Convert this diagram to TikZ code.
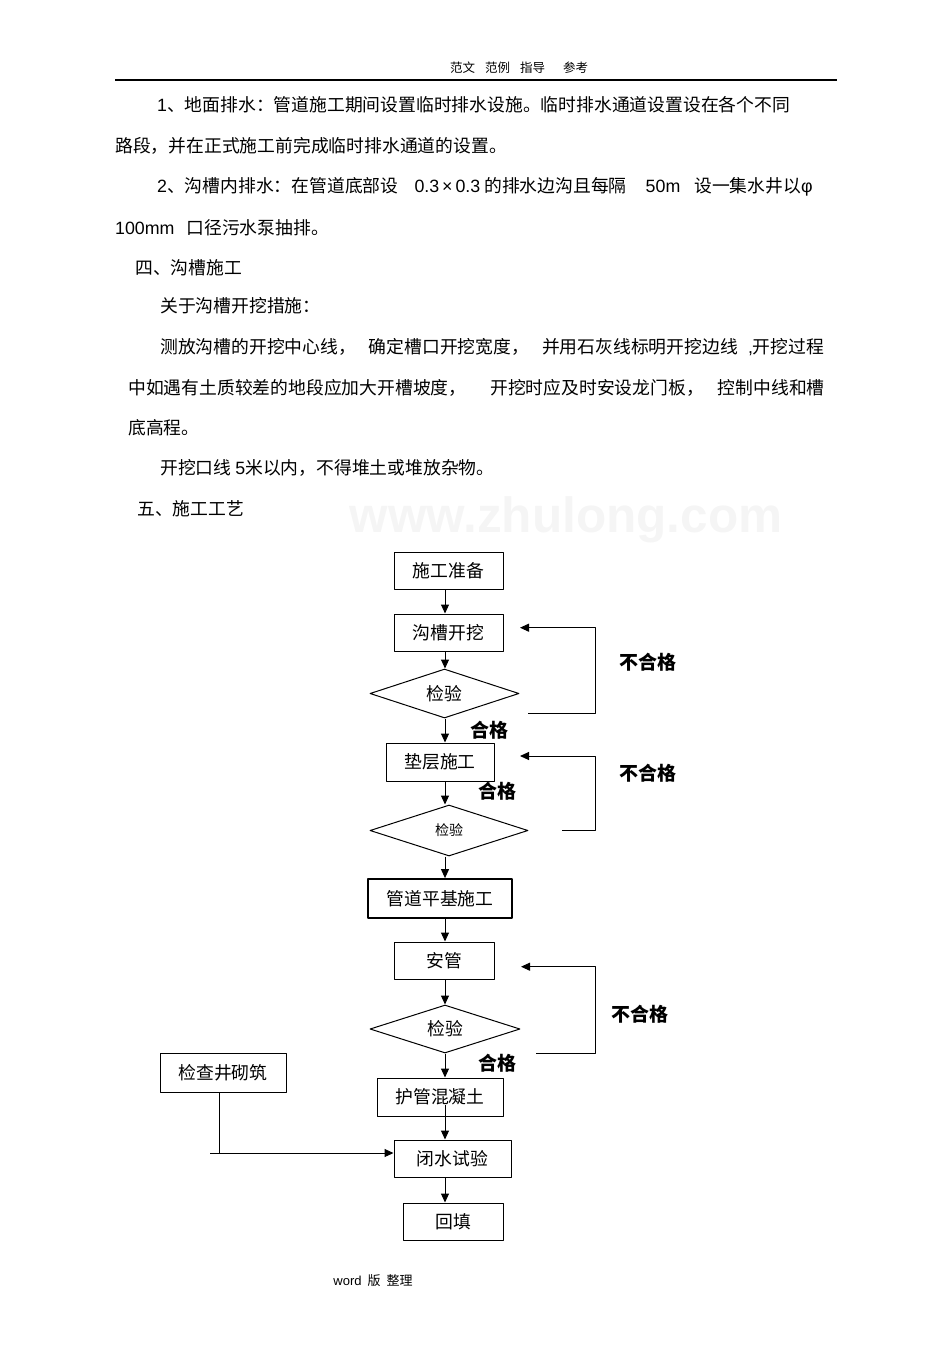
\documentclass[tikz,border=0pt]{standalone}
\usepackage{fontspec}
\setmainfont{Liberation Sans}
\newfontfamily\cjk{Noto Sans CJK SC}
\usetikzlibrary{shapes.geometric,arrows.meta}
\newcommand\lat[1]{{\rmfamily #1}}
\begin{document}
\begin{tikzpicture}[x=1pt, y=-1pt, line join=round, >={Triangle[length=9pt,width=8pt]},
	font=\cjk\fontsize{17.8}{21}\selectfont,
	para/.style={anchor=west, inner sep=0pt},
	box/.style={draw, line width=1pt, minimum height=37pt, inner sep=0pt},
	check/.style={draw, line width=1pt, diamond, shape aspect=3, minimum width=149pt, minimum height=49pt, inner sep=0pt},
	pass/.style={inner sep=0pt, font=\cjk\bfseries\fontsize{19}{20}\selectfont}]
	\useasboundingbox (0,0) rectangle (950,1346);
	\def\loopx{595}
	\node[font=\cjk\fontsize{12.5}{14}\selectfont] (head) at (519,68) {范文\hspace{10pt}范例\hspace{10pt}指导\hspace{18pt}参考};
	\draw[line width=1.2pt] (115,80) -- (837,80);
	\node[para] (p1) at (157,105) {\lat{1}、地面排水：管道施工期间设置临时排水设施。临时排水通道设置设在各个不同};
	\node[para] (p2) at (115,146) {路段，并在正式施工前完成临时排水通道的设置。};
	\node[para] (p3) at (157,187) {\lat{2}、沟槽内排水：在管道底部设\hspace{16pt}\lat{0.3\,×\,0.3} 的排水边沟且每隔\hspace{19pt}\lat{50m}\hspace{14pt}设一集水井以\lat{φ}};
	\node[para] (p4) at (115,228) {\lat{100mm}\hspace{12pt}口径污水泵抽排。};
	\node[para] (p5) at (135,268) {四、沟槽施工};
	\node[para] (p6) at (160,306) {关于沟槽开挖措施：};
	\node[para] (p7) at (160,347) {测放沟槽的开挖中心线，\hspace{13pt}确定槽口开挖宽度，\hspace{13pt}并用石灰线标明开挖边线\hspace{10pt}\lat{,}开挖过程};
	\node[para] (p8) at (128,388) {中如遇有土质较差的地段应加大开槽坡度，\hspace{24pt}开挖时应及时安设龙门板，\hspace{14pt}控制中线和槽};
	\node[para] (p9) at (128,428) {底高程。};
	\node[para] (p10) at (160,468) {开挖口线 \lat{5}米以内，不得堆土或堆放杂物。};
	\node[para] (p11) at (137,509) {五、施工工艺};
	\node[text=black!4, font=\rmfamily\bfseries\fontsize{49.5}{50}\selectfont] (mark) at (566,520) {www.zhulong.com};
	\node[box, minimum width=109pt] (prep) at (448.5,571) {施工准备};
	\node[box, minimum width=109pt] (dig) at (448.5,632.5) {沟槽开挖};
	\node[check] (chk1) at (444.5,693.5) {检验};
	\node[box, minimum width=108pt, minimum height=38pt] (bed) at (440,762) {垫层施工};
	\node[check, minimum width=158pt, minimum height=51pt, font=\cjk\fontsize{14}{16}\selectfont] (chk2) at (449,830.5) {检验};
	\node[box, minimum width=144pt, minimum height=39pt, line width=1.8pt] (base) at (440,898.5) {管道平基施工};
	\node[box, minimum width=100pt] (lay) at (444,960.5) {安管};
	\node[check, minimum width=150pt, minimum height=48pt] (chk3) at (445,1029) {检验};
	\node[box, minimum width=126pt, minimum height=39pt] (well) at (223,1072.5) {检查井砌筑};
	\node[box, minimum width=126pt, minimum height=38pt] (wrap) at (440,1097) {护管混凝土};
	\node[box, minimum width=117pt] (test) at (452.5,1158.5) {闭水试验};
	\node[box, minimum width=100pt] (fill) at (453,1221.5) {回填};
	\node[pass] (fail1) at (648,662) {不合格};
	\node[pass] (ok1) at (489,730) {合格};
	\node[pass] (fail2) at (648,773) {不合格};
	\node[pass] (ok2) at (497,791) {合格};
	\node[pass] (fail3) at (640,1014) {不合格};
	\node[pass] (ok3) at (497,1063) {合格};
	\node[font=\fontsize{13}{14}\selectfont] (foot) at (373,1281) {word\hspace{6pt}\cjk 版\hspace{6pt}整理};
	\coordinate (axis) at (445,0);
	\coordinate (back) at (\loopx,0);
	\coordinate (out1) at (528,713);
	\coordinate (in1) at (520,627.7);
	\coordinate (out2) at (562,830);
	\coordinate (in2) at (520,756);
	\coordinate (out3) at (536,1053);
	\coordinate (in3) at (521,966.7);
	\coordinate (tee) at (219,1153);
	\coordinate (join) at (210,1153);
	\begin{scope}[line width=1pt]
		\foreach \a/\b in {prep/dig, dig/chk1, chk1/bed, bed/chk2, chk2/base, base/lay, lay/chk3, chk3/wrap, test/fill}
		\draw[->] (\a.south -| axis) -- (\b.north -| axis);
		\draw[->] ([yshift=-8pt]wrap.center -| axis) -- (test.north -| axis);
		\foreach \i in {1,2,3}
		\draw[->] (out\i) -- (out\i -| back) |- (in\i);
		\draw (well.south -| tee) -- (tee);
		\draw[->] (join) -- (join -| test.west);
	\end{scope}
\end{tikzpicture}
\end{document}
